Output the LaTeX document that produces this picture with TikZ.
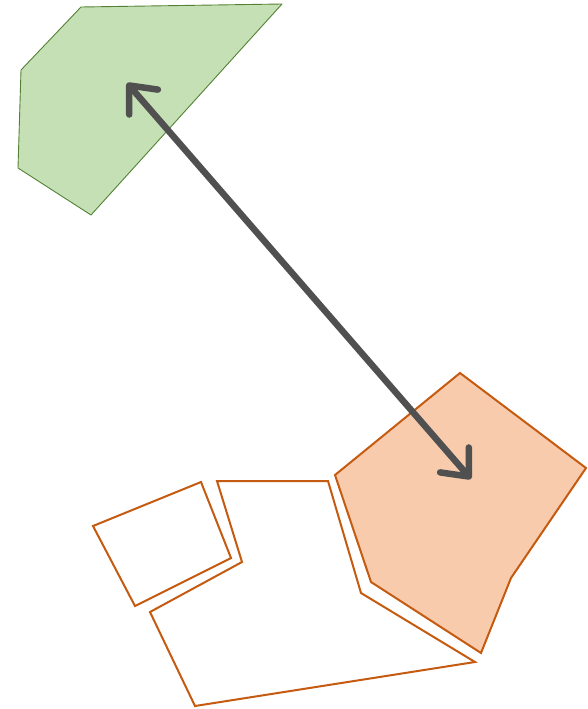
\documentclass[tikz,border=0pt]{standalone}
\usetikzlibrary{arrows.meta}
\definecolor{leafFill}{HTML}{C5E0B4}
\definecolor{leafLine}{HTML}{548235}
\definecolor{rustFill}{HTML}{F8CBAD}
\definecolor{rustLine}{HTML}{C55A11}
\definecolor{arrowGrey}{HTML}{505050}
\tikzset{
  greenshape/.style={fill=leafFill, draw=leafLine, line width=0.9pt, line join=round},
  orangeshape/.style={fill=rustFill, draw=rustLine, line width=2pt, line join=miter},
  outlineshape/.style={draw=rustLine, line width=2pt, line join=miter},
  barb/.tip={Straight Barb[round, length=22pt, width=38pt]},
  linkarrow/.style={draw=arrowGrey, line width=6.5pt, line cap=round, barb-barb}
}
\begin{document}
\begin{tikzpicture}[x=1pt, y=-1pt]
  \useasboundingbox (0,0) rectangle (588,709);
  % green region
  \draw[greenshape] (81,7) -- (282,4) -- (91,215) -- (18,168) -- (21,70) -- cycle;
  % filled orange region
  \draw[orangeshape] (460,373) -- (586,468) -- (511,578) -- (481,653) -- (371,582) -- (335,475) -- cycle;
  % small outlined quadrilateral
  \draw[outlineshape] (93,526) -- (201,482) -- (231,558) -- (135,606) -- cycle;
  % larger outlined region
  \draw[outlineshape] (217,481) -- (328,481) -- (361,593) -- (475,662) -- (195,706) -- (150,612) -- (242,562) -- cycle;
  % two-way link between the regions
  \coordinate (top) at (127,83);
  \coordinate (bottom) at (471,479);
  \draw[linkarrow] (top) -- (bottom);
\end{tikzpicture}
\end{document}
